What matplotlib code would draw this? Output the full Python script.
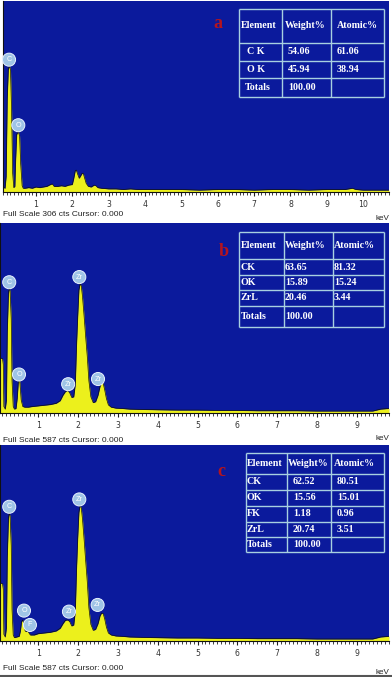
import matplotlib
matplotlib.use("Agg")
import matplotlib.pyplot as plt
from matplotlib.ticker import MultipleLocator

# ---------------- data ----------------
full_scale = [306, 587, 587]
panel_letters = ["a", "b", "c"]

energy_a = [0.094, 0.15, 0.18, 0.21, 0.24, 0.27, 0.30, 0.33, 0.36, 0.39,
            0.42, 0.44, 0.47, 0.51, 0.55, 0.58, 0.62, 0.65, 0.70, 0.80,
            0.90, 1.00, 1.10, 1.20, 1.30, 1.40, 1.45, 1.50, 1.60, 1.70,
            1.80, 1.90, 2.00, 2.04, 2.08, 2.11, 2.15, 2.19, 2.23, 2.27,
            2.30, 2.34, 2.38, 2.44, 2.52, 2.60, 2.65, 2.70, 2.80, 3.00,
            3.20, 3.40, 3.60, 3.80, 4.00, 4.50, 5.00, 5.50, 6.00, 6.50,
            7.00, 7.50, 8.00, 8.50, 9.00, 9.50, 9.70, 9.80, 10.00, 10.71]
counts_a = [8, 6, 25, 150, 197, 202, 195, 130, 30, 7,
            9, 50, 92, 97, 90, 45, 10, 6, 6, 7,
            6, 8, 7, 8, 9, 12, 13, 9, 9, 10,
            9, 11, 12, 22, 34, 35, 28, 22, 26, 30,
            30, 22, 14, 9, 8, 11, 10, 7, 6, 5,
            5, 4, 5, 4, 4, 4, 4, 3, 4, 4,
            3, 4, 4, 3, 4, 4, 6, 4, 3, 3]

energy_b = [0.038, 0.10, 0.12, 0.135, 0.17, 0.20, 0.22, 0.25, 0.27, 0.29,
            0.32, 0.34, 0.37, 0.40, 0.44, 0.47, 0.50, 0.52, 0.54, 0.57,
            0.61, 0.66, 0.75, 0.85, 1.00, 1.15, 1.30, 1.45, 1.55, 1.62,
            1.68, 1.74, 1.79, 1.84, 1.89, 1.93, 1.96, 1.99, 2.02, 2.05,
            2.08, 2.11, 2.15, 2.19, 2.23, 2.27, 2.32, 2.38, 2.44, 2.50,
            2.55, 2.59, 2.63, 2.67, 2.71, 2.76, 2.83, 2.95, 3.10, 3.30,
            3.60, 4.00, 4.50, 5.00, 5.50, 6.00, 6.50, 7.00, 7.50, 8.00,
            8.50, 9.00, 9.40, 9.60, 9.81]
counts_b = [170, 168, 150, 20, 12, 40, 250, 370, 385, 378,
            290, 100, 20, 12, 14, 45, 100, 112, 90, 40,
            20, 18, 18, 20, 22, 24, 26, 30, 38, 55,
            66, 70, 62, 48, 50, 90, 210, 300, 380, 400,
            392, 360, 300, 235, 175, 100, 50, 32, 35, 55,
            82, 94, 92, 70, 45, 25, 18, 15, 14, 12,
            11, 10, 9, 9, 8, 8, 7, 7, 7, 6,
            6, 6, 6, 12, 14]

energy_c = [0.038, 0.10, 0.12, 0.135, 0.17, 0.20, 0.22, 0.25, 0.27, 0.29,
            0.32, 0.34, 0.37, 0.40, 0.46, 0.52, 0.55, 0.58, 0.61, 0.64,
            0.67, 0.70, 0.73, 0.76, 0.80, 0.90, 1.00, 1.15, 1.30, 1.45,
            1.55, 1.62, 1.68, 1.74, 1.79, 1.84, 1.89, 1.93, 1.96, 1.99,
            2.02, 2.05, 2.08, 2.11, 2.15, 2.19, 2.23, 2.27, 2.32, 2.38,
            2.44, 2.50, 2.55, 2.59, 2.63, 2.67, 2.71, 2.76, 2.83, 2.95,
            3.10, 3.30, 3.60, 4.00, 4.50, 5.00, 5.50, 6.00, 6.50, 7.00,
            7.50, 8.00, 8.50, 9.00, 9.40, 9.60, 9.81]
counts_c = [174, 172, 155, 20, 12, 40, 250, 368, 383, 375,
            285, 95, 18, 10, 12, 14, 30, 58, 63, 50,
            30, 28, 32, 25, 18, 18, 22, 24, 26, 30,
            38, 52, 62, 63, 58, 45, 48, 90, 215, 310,
            385, 407, 398, 365, 305, 240, 178, 100, 50, 32,
            35, 52, 75, 84, 82, 65, 42, 24, 18, 15,
            14, 12, 11, 10, 9, 9, 8, 8, 7, 7,
            7, 6, 6, 6, 6, 12, 14]

# peak identification markers (element, energy keV, counts)
marker_el_a = ["C", "O"]
marker_e_a = [0.26, 0.515]
marker_c_a = [212, 107]
marker_el_b = ["C", "O", "Zr", "Zr", "Zr"]
marker_e_b = [0.27, 0.515, 1.75, 2.03, 2.50]
marker_c_b = [404, 119, 89, 420, 105]
marker_el_c = ["C", "O", "F", "Zr", "Zr", "Zr"]
marker_e_c = [0.27, 0.64, 0.79, 1.77, 2.03, 2.49]
marker_c_c = [402, 91, 48, 88, 424, 108]

table_header = ["Element", "Weight%", "Atomic%"]
table_a = [["C K", "54.06", "61.06"], ["O K", "45.94", "38.94"], ["Totals", "100.00", ""]]
table_b = [["CK", "63.65", "81.32"], ["OK", "15.89", "15.24"], ["ZrL", "20.46", "3.44"],
           ["Totals", "100.00", ""]]
table_c = [["CK", "62.52", "80.51"], ["OK", "15.56", "15.01"], ["FK", "1.18", "0.96"],
           ["ZrL", "20.74", "3.51"], ["Totals", "100.00", ""]]

# ---------------- style / layout ----------------
W, H = 392, 677
BLUE = "#0b1a9c"
YELLOW = "#ecf01c"
LINEC = "#a8d0e0"
RED = "#b4141e"

fig = plt.figure(figsize=(W / 100, H / 100), dpi=100)
fig.patch.set_facecolor("white")

def fr(x, y):
    return x / W, 1 - y / H

# axes boxes in pixels: (left, top, right, bottom), xlim
panels = [
    dict(box=(3, 1, 389, 192), xlim=(0.094, 10.71), e=energy_a, c=counts_a,
         mel=marker_el_a, me=marker_e_a, mc=marker_c_a, ticks=range(1, 11),
         fs_y=214, kev_y=218),
    dict(box=(0, 223, 389, 413), xlim=(0.038, 9.81), e=energy_b, c=counts_b,
         mel=marker_el_b, me=marker_e_b, mc=marker_c_b, ticks=range(1, 10),
         fs_y=440, kev_y=439),
    dict(box=(0, 445, 389, 641), xlim=(0.038, 9.81), e=energy_c, c=counts_c,
         mel=marker_el_c, me=marker_e_c, mc=marker_c_c, ticks=range(1, 10),
         fs_y=669, kev_y=673),
]

for i, p in enumerate(panels):
    l, t, r, b = p["box"]
    ax = fig.add_axes([l / W, 1 - b / H, (r - l) / W, (b - t) / H])
    ax.set_facecolor(BLUE)
    ax.fill_between(p["e"], 0, p["c"], color=YELLOW, lw=0, zorder=2)
    ax.plot(p["e"], p["c"], color="#101010", lw=0.5, zorder=3)
    ax.set_xlim(*p["xlim"])
    ax.set_ylim(0, full_scale[i])
    ax.set_yticks([])
    for s in ["top", "right"]:
        ax.spines[s].set_visible(False)
    ax.spines["left"].set_color("#101010")
    ax.spines["left"].set_linewidth(0.8)
    ax.spines["bottom"].set_color("#101010")
    ax.spines["bottom"].set_linewidth(0.8)
    ax.set_xticks(list(p["ticks"]))
    ax.xaxis.set_minor_locator(MultipleLocator(0.1))
    ax.tick_params(axis="x", which="major", length=3, width=0.8, color="#202020",
                   labelsize=5.6, labelcolor="#333333", pad=3)
    ax.tick_params(axis="x", which="minor", length=1.8, width=0.6, color="#202020")
    for el, e, cnt in zip(p["mel"], p["me"], p["mc"]):
        ax.text(e, cnt, el, ha="center", va="center", fontsize=5.2, color="white",
                family="Liberation Sans", zorder=5,
                bbox=dict(boxstyle="circle,pad=0.42", fc="#9fc4e6", ec="#e8f2ff", lw=0.7))
    fx, fy = fr(3, p["fs_y"])
    fig.text(fx, fy, "Full Scale %d cts Cursor: 0.000" % full_scale[i], ha="left",
             va="center", fontsize=6.0, color="#222222", family="Liberation Sans")
    fx, fy = fr(389, p["kev_y"])
    fig.text(fx, fy, "keV", ha="right", va="center", fontsize=5.8, color="#222222",
             family="Liberation Sans")

# overlay for tables and letters
ov = fig.add_axes([0, 0, 1, 1], facecolor="none")
ov.set_xlim(0, W)
ov.set_ylim(H, 0)
ov.axis("off")

tables = [
    dict(rows=table_a, cols=[239, 282, 331, 384], rlines=[9, 43, 61, 78, 97],
         tx=[241, 285, 337], rtx=[247, 288, 337], letter=(218, 24)),
    dict(rows=table_b, cols=[239, 284, 333, 384], rlines=[232, 259, 275, 290, 306, 327],
         tx=[241, 285, 334], rtx=[241, 285, 334], letter=(224, 251)),
    dict(rows=table_c, cols=[246, 287, 331, 384], rlines=[453, 474, 490, 506, 522, 537, 552],
         tx=[247, 288, 334], rtx=[247, 293, 337], letter=(221, 471)),
]

for k, tb in enumerate(tables):
    cols, rl = tb["cols"], tb["rlines"]
    for x in cols:
        ov.plot([x, x], [rl[0], rl[-1]], color=LINEC, lw=1.0, solid_capstyle="butt")
    for y in rl:
        ov.plot([cols[0], cols[-1]], [y, y], color=LINEC, lw=1.0, solid_capstyle="butt")
    yc = (rl[0] + rl[1]) / 2
    for j, h in enumerate(table_header):
        ov.text(tb["tx"][j], yc, h, ha="left", va="center", fontsize=7.2,
                color="white", family="Liberation Serif", weight="bold")
    for r, row in enumerate(tb["rows"]):
        yc = (rl[r + 1] + rl[r + 2]) / 2
        for j, val in enumerate(row):
            x = tb["rtx"][j]
            if row[0] == "Totals" and j == 0:
                x = tb["tx"][0] + (4 if k == 0 else 0)
            ov.text(x, yc, val, ha="left", va="center", fontsize=7.2,
                    color="white", family="Liberation Serif", weight="bold")
    lx, ly = tb["letter"]
    ov.text(lx, ly, panel_letters[k], ha="center", va="center", fontsize=13,
            color=RED, family="Liberation Serif", weight="bold")

ov.plot([0, W], [676, 676], color="#555555", lw=1.5)

fig.savefig("out.png", dpi=100, facecolor="white")
